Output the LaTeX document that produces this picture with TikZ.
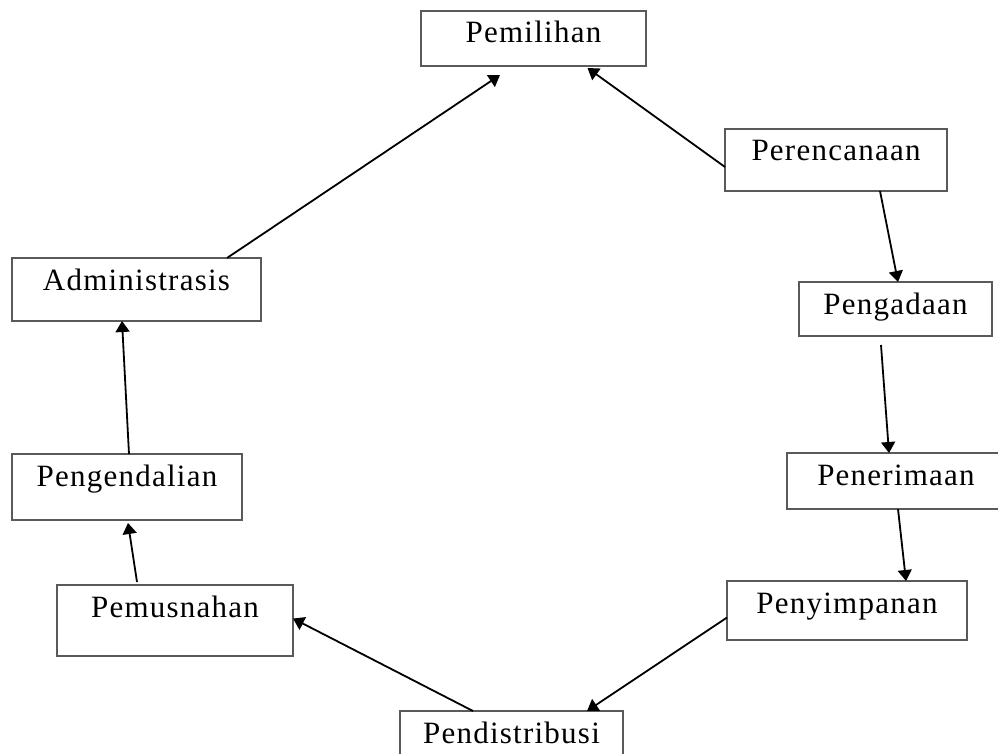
\documentclass[tikz,border=0pt]{standalone}
\usepackage{fontspec}
\newfontfamily\hurufKotak{Liberation Serif}[LetterSpace=4]
\usepackage{tikz}
\usetikzlibrary{arrows.meta,calc}
\definecolor{garisKotak}{RGB}{90, 90, 90}
\tikzstyle{tahap}=[draw=garisKotak, line width=1.4pt, anchor=north west,
                   inner sep=0pt, outer sep=0pt, text height=32pt,
                   font=\hurufKotak\fontsize{31}{35}\selectfont]
\tikzstyle{panah}=[-{Triangle[length=11pt,width=14pt]}, line width=1.8pt]

\begin{document}
\begin{tikzpicture}[x=1pt,y=-1pt]
    \useasboundingbox (0,0) rectangle (998,754);
    \clip (0,0) rectangle (998,754);

    % kotak tahap
    \node (pemilihan)     [tahap, minimum width=225pt, text depth=23pt] at (421,11)  {Pemilihan};
    \node (perencanaan)   [tahap, minimum width=222pt, text depth=30pt] at (725,129) {Perencanaan};
    \node (pengadaan)     [tahap, minimum width=193pt, text depth=22pt] at (799,282) {Pengadaan};
    \node (penerimaan)    [tahap, minimum width=218pt, text depth=24pt] at (787,453) {Penerimaan};
    \node (penyimpanan)   [tahap, minimum width=240pt, text depth=27pt] at (727,581) {Penyimpanan};
    \node (pendistribusi) [tahap, minimum width=223pt, text depth=30pt] at (400,711) {Pendistribusi};
    \node (pemusnahan)    [tahap, minimum width=236pt, text depth=39pt] at (57,585)  {Pemusnahan};
    \node (pengendalian)  [tahap, minimum width=230pt, text depth=34pt] at (12,454)  {Pengendalian};
    \node (administrasis) [tahap, minimum width=249pt, text depth=31pt] at (12,258)  {Administrasis};

    % panah antar tahap
    \draw [panah] ([yshift=-7pt]perencanaan.west) -- ([xshift=54pt,yshift=-2pt]pemilihan.south);
    \draw [panah] ([xshift=155pt]perencanaan.south west) -- ([xshift=99pt]pengadaan.north west);
    \draw [panah] ([xshift=82pt,yshift=-9pt]pengadaan.south west) -- ([xshift=102pt]penerimaan.north west);
    \draw [panah] ([xshift=111pt]penerimaan.south west) -- ([xshift=179pt]penyimpanan.north west);
    \draw [panah] ([yshift=-7pt]penyimpanan.west) -- ([xshift=187pt]pendistribusi.north west);
    \draw [panah] ([xshift=73pt]pendistribusi.north west) -- ([yshift=2pt]pemusnahan.east);
    \draw [panah] ([xshift=80pt,yshift=3pt]pemusnahan.north west) -- ([xshift=116pt,yshift=-3pt]pengendalian.south west);
    \draw [panah] ([xshift=117pt]pengendalian.north west) -- ([xshift=110pt]administrasis.south west);
    \draw [panah] ([xshift=215pt]administrasis.north west) -- ([xshift=79pt,yshift=-9pt]pemilihan.south west);

\end{tikzpicture}
\end{document}
